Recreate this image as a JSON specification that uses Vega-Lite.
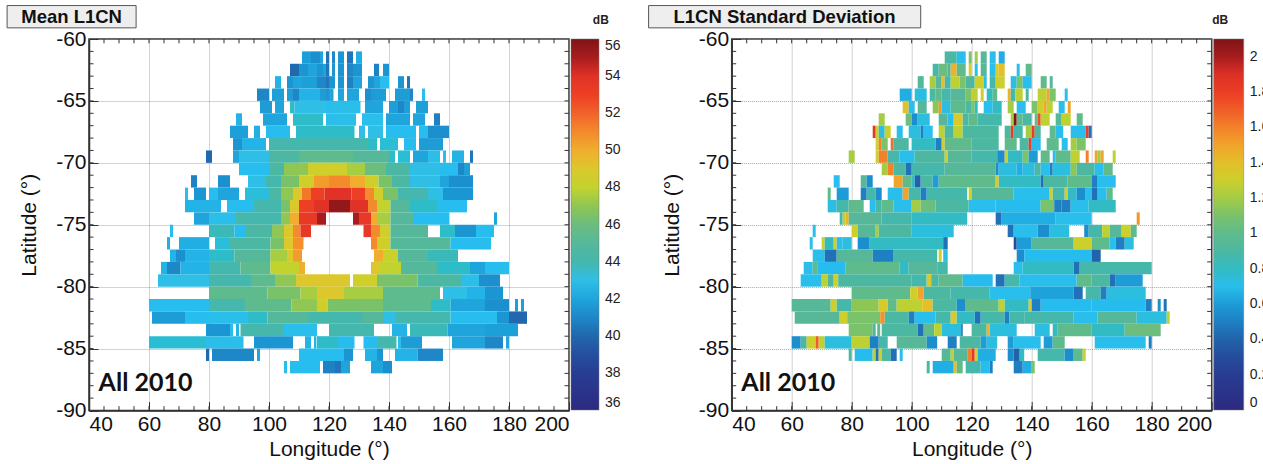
{"$schema":"https://vega.github.io/schema/vega-lite/v6.json","padding":{"left":5,"top":4,"right":0,"bottom":0},"spacing":162.7,"bounds":"flush","background":"white","config":{"font":"Liberation Sans","view":{"stroke":"#333","strokeWidth":1.5},"axis":{"labelFontSize":21,"titleFontSize":21,"titleFontWeight":"normal","labelColor":"#111","titleColor":"#111","domainColor":"#333","domainWidth":1.5,"tickColor":"#333","gridColor":"#888","gridDash":[1,1],"gridOpacity":0.75,"grid":true,"zindex":1,"tickSize":-9,"labelPadding":12}},"resolve":{"scale":{"color":"independent"}},
"datasets":{"xt":[{"t":45},{"t":50},{"t":55},{"t":60},{"t":65},{"t":70},{"t":75},{"t":80},{"t":85},{"t":90},{"t":95},{"t":100},{"t":105},{"t":110},{"t":115},{"t":120},{"t":125},{"t":130},{"t":135},{"t":140},{"t":145},{"t":150},{"t":155},{"t":160},{"t":165},{"t":170},{"t":175},{"t":180},{"t":185},{"t":190},{"t":195}],"yt":[{"t":-61},{"t":-62},{"t":-63},{"t":-64},{"t":-65},{"t":-66},{"t":-67},{"t":-68},{"t":-69},{"t":-70},{"t":-71},{"t":-72},{"t":-73},{"t":-74},{"t":-75},{"t":-76},{"t":-77},{"t":-78},{"t":-79},{"t":-80},{"t":-81},{"t":-82},{"t":-83},{"t":-84},{"t":-85},{"t":-86},{"t":-87},{"t":-88},{"t":-89}],
"mean":[
{"a":111,"b":114,"y":-61,"z":-62,"v":41.8},{"a":114,"b":117,"y":-61,"z":-62,"v":41.3},{"a":117,"b":118,"y":-61,"z":-62,"v":42},{"a":119,"b":120,"y":-61,"z":-62,"v":40.3},{"a":121,"b":122,"y":-61,"z":-62,"v":41},{"a":123,"b":125,"y":-61,"z":-62,"v":41.5},{"a":126,"b":128,"y":-61,"z":-62,"v":40.5},{"a":129,"b":131,"y":-61,"z":-62,"v":42.2},
{"a":107,"b":110,"y":-62,"z":-63,"v":40},{"a":110,"b":113,"y":-62,"z":-63,"v":41.5},{"a":113,"b":116,"y":-62,"z":-63,"v":42},{"a":116,"b":118,"y":-62,"z":-63,"v":41.5},{"a":118,"b":119,"y":-62,"z":-63,"v":42},{"a":119,"b":120,"y":-62,"z":-63,"v":40.5},{"a":121,"b":122,"y":-62,"z":-63,"v":41.5},{"a":123,"b":125,"y":-62,"z":-63,"v":41.5},{"a":126,"b":128,"y":-62,"z":-63,"v":41},{"a":128,"b":129,"y":-62,"z":-63,"v":41.5},{"a":129,"b":131,"y":-62,"z":-63,"v":41.5},{"a":135,"b":136.7,"y":-62,"z":-63,"v":40.8},{"a":138,"b":140,"y":-62,"z":-63,"v":41.5},
{"a":102,"b":104,"y":-63,"z":-64,"v":42.3},{"a":106,"b":108,"y":-63,"z":-64,"v":41.5},{"a":108,"b":111,"y":-63,"z":-64,"v":42},{"a":111,"b":116,"y":-63,"z":-64,"v":41.8},{"a":116,"b":119,"y":-63,"z":-64,"v":41},{"a":119,"b":120,"y":-63,"z":-64,"v":40.5},{"a":120,"b":122,"y":-63,"z":-64,"v":41.5},{"a":123,"b":125,"y":-63,"z":-64,"v":41.5},{"a":126,"b":128,"y":-63,"z":-64,"v":40.8},{"a":128,"b":131,"y":-63,"z":-64,"v":42},{"a":133,"b":135,"y":-63,"z":-64,"v":41.5},{"a":135,"b":137,"y":-63,"z":-64,"v":42},{"a":137,"b":140,"y":-63,"z":-64,"v":42.5},{"a":143,"b":145,"y":-63,"z":-64,"v":41.5},{"a":146,"b":147,"y":-63,"z":-64,"v":40.5},
{"a":96,"b":100,"y":-64,"z":-65,"v":41},{"a":101,"b":105,"y":-64,"z":-65,"v":41.8},{"a":106,"b":108,"y":-64,"z":-65,"v":41.7},{"a":108,"b":110,"y":-64,"z":-65,"v":41},{"a":110,"b":117,"y":-64,"z":-65,"v":42.3},{"a":117,"b":119,"y":-64,"z":-65,"v":41.7},{"a":119,"b":120,"y":-64,"z":-65,"v":41.5},{"a":120,"b":121.5,"y":-64,"z":-65,"v":42},{"a":123,"b":125,"y":-64,"z":-65,"v":42},{"a":126,"b":128,"y":-64,"z":-65,"v":42},{"a":128,"b":130,"y":-64,"z":-65,"v":42},{"a":132,"b":134,"y":-64,"z":-65,"v":41.3},{"a":134,"b":139,"y":-64,"z":-65,"v":41.7},{"a":142,"b":147,"y":-64,"z":-65,"v":41.7},{"a":147,"b":148,"y":-64,"z":-65,"v":41},{"a":151,"b":152,"y":-64,"z":-65,"v":42.5},
{"a":97,"b":101,"y":-65,"z":-66,"v":41.7},{"a":102,"b":105,"y":-65,"z":-66,"v":42},{"a":107,"b":108.5,"y":-65,"z":-66,"v":43.5},{"a":108.5,"b":119,"y":-65,"z":-66,"v":43},{"a":119,"b":121,"y":-65,"z":-66,"v":42.5},{"a":121,"b":130.5,"y":-65,"z":-66,"v":42.8},{"a":132,"b":138,"y":-65,"z":-66,"v":42},{"a":140,"b":143,"y":-65,"z":-66,"v":41.8},{"a":143,"b":145,"y":-65,"z":-66,"v":41},{"a":145,"b":147,"y":-65,"z":-66,"v":41.8},{"a":149,"b":153,"y":-65,"z":-66,"v":41.8},
{"a":89,"b":91,"y":-66,"z":-67,"v":42.3},{"a":98,"b":106,"y":-66,"z":-67,"v":42},{"a":108,"b":118,"y":-66,"z":-67,"v":43.5},{"a":119,"b":129,"y":-66,"z":-67,"v":42.8},{"a":131,"b":138,"y":-66,"z":-67,"v":42.7},{"a":139,"b":147,"y":-66,"z":-67,"v":42},{"a":148,"b":152,"y":-66,"z":-67,"v":42},{"a":155,"b":157,"y":-66,"z":-67,"v":40.8},
{"a":87,"b":93,"y":-67,"z":-68,"v":41.8},{"a":95,"b":97,"y":-67,"z":-68,"v":42.2},{"a":99,"b":107,"y":-67,"z":-68,"v":42.5},{"a":109,"b":128.5,"y":-67,"z":-68,"v":43.5},{"a":130,"b":132,"y":-67,"z":-68,"v":43},{"a":133,"b":138,"y":-67,"z":-68,"v":43},{"a":139,"b":149,"y":-67,"z":-68,"v":42.5},{"a":150,"b":153,"y":-67,"z":-68,"v":42.5},{"a":153,"b":160,"y":-67,"z":-68,"v":41.3},
{"a":88,"b":91,"y":-68,"z":-69,"v":41.5},{"a":91,"b":94,"y":-68,"z":-69,"v":42.3},{"a":94,"b":99,"y":-68,"z":-69,"v":42.3},{"a":100,"b":130,"y":-68,"z":-69,"v":44},{"a":130,"b":133,"y":-68,"z":-69,"v":44},{"a":133,"b":136,"y":-68,"z":-69,"v":43.5},{"a":137,"b":143,"y":-68,"z":-69,"v":43.3},{"a":145,"b":149,"y":-68,"z":-69,"v":42.5},{"a":150,"b":158,"y":-68,"z":-69,"v":41.7},
{"a":79,"b":81,"y":-69,"z":-70,"v":40},{"a":88,"b":90,"y":-69,"z":-70,"v":42},{"a":90,"b":100,"y":-69,"z":-70,"v":43},{"a":100,"b":110,"y":-69,"z":-70,"v":44.5},{"a":110,"b":128,"y":-69,"z":-70,"v":45.5},{"a":128,"b":140,"y":-69,"z":-70,"v":45},{"a":140,"b":142,"y":-69,"z":-70,"v":43.5},{"a":143,"b":147,"y":-69,"z":-70,"v":43.3},{"a":148,"b":153,"y":-69,"z":-70,"v":42},{"a":153,"b":157,"y":-69,"z":-70,"v":42.8},{"a":158,"b":159,"y":-69,"z":-70,"v":42.5},{"a":161,"b":165,"y":-69,"z":-70,"v":42.3},{"a":167,"b":168,"y":-69,"z":-70,"v":40.5},
{"a":90,"b":100,"y":-70,"z":-71,"v":42.5},{"a":100,"b":105,"y":-70,"z":-71,"v":44.5},{"a":105,"b":113,"y":-70,"z":-71,"v":47},{"a":113,"b":126,"y":-70,"z":-71,"v":48.5},{"a":126,"b":132,"y":-70,"z":-71,"v":47.5},{"a":132,"b":139,"y":-70,"z":-71,"v":46},{"a":139,"b":147,"y":-70,"z":-71,"v":44.5},{"a":147,"b":157,"y":-70,"z":-71,"v":43},{"a":157,"b":163,"y":-70,"z":-71,"v":42.5},{"a":163,"b":165,"y":-70,"z":-71,"v":41},{"a":165,"b":167,"y":-70,"z":-71,"v":41.8},
{"a":74,"b":76,"y":-71,"z":-72,"v":40.8},{"a":83,"b":87,"y":-71,"z":-72,"v":41.3},{"a":93,"b":99,"y":-71,"z":-72,"v":43},{"a":99,"b":104,"y":-71,"z":-72,"v":44},{"a":104,"b":110,"y":-71,"z":-72,"v":46.5},{"a":110,"b":115,"y":-71,"z":-72,"v":48.5},{"a":115,"b":120,"y":-71,"z":-72,"v":50.5},{"a":120,"b":127,"y":-71,"z":-72,"v":51},{"a":127,"b":132,"y":-71,"z":-72,"v":50},{"a":132,"b":136.5,"y":-71,"z":-72,"v":48.5},{"a":136.5,"b":141,"y":-71,"z":-72,"v":46.5},{"a":141,"b":147,"y":-71,"z":-72,"v":44.5},{"a":147,"b":157,"y":-71,"z":-72,"v":43},{"a":157,"b":160,"y":-71,"z":-72,"v":42},{"a":160,"b":168,"y":-71,"z":-72,"v":41.3},
{"a":72,"b":73,"y":-72,"z":-73,"v":42.5},{"a":75,"b":79,"y":-72,"z":-73,"v":41.5},{"a":80,"b":83,"y":-72,"z":-73,"v":42.5},{"a":83,"b":90,"y":-72,"z":-73,"v":42},{"a":92,"b":100,"y":-72,"z":-73,"v":43.2},{"a":100,"b":104,"y":-72,"z":-73,"v":44.5},{"a":104,"b":108,"y":-72,"z":-73,"v":47},{"a":108,"b":111,"y":-72,"z":-73,"v":49},{"a":111,"b":114,"y":-72,"z":-73,"v":51.5},{"a":114,"b":118.5,"y":-72,"z":-73,"v":53},{"a":118.5,"b":127.5,"y":-72,"z":-73,"v":54},{"a":127.5,"b":132,"y":-72,"z":-73,"v":53},{"a":132,"b":135,"y":-72,"z":-73,"v":51},{"a":135,"b":138,"y":-72,"z":-73,"v":48.5},{"a":138,"b":143,"y":-72,"z":-73,"v":46.5},{"a":143,"b":153,"y":-72,"z":-73,"v":44},{"a":153,"b":158,"y":-72,"z":-73,"v":43},{"a":158,"b":168,"y":-72,"z":-73,"v":41.5},
{"a":72,"b":84,"y":-73,"z":-74,"v":42.3},{"a":86,"b":95,"y":-73,"z":-74,"v":42.5},{"a":95,"b":104,"y":-73,"z":-74,"v":44},{"a":104,"b":107,"y":-73,"z":-74,"v":46.5},{"a":107,"b":110,"y":-73,"z":-74,"v":49},{"a":110,"b":115,"y":-73,"z":-74,"v":53},{"a":115,"b":120,"y":-73,"z":-74,"v":54},{"a":120,"b":127,"y":-73,"z":-74,"v":55.5},{"a":127,"b":133,"y":-73,"z":-74,"v":54},{"a":133,"b":136,"y":-73,"z":-74,"v":51},{"a":136,"b":140.5,"y":-73,"z":-74,"v":48},{"a":140.5,"b":147,"y":-73,"z":-74,"v":45},{"a":147,"b":156,"y":-73,"z":-74,"v":43.5},{"a":156,"b":166,"y":-73,"z":-74,"v":42.5},
{"a":75,"b":80,"y":-74,"z":-75,"v":42},{"a":80,"b":89,"y":-74,"z":-75,"v":42.8},{"a":89,"b":104,"y":-74,"z":-75,"v":44},{"a":104,"b":107,"y":-74,"z":-75,"v":47},{"a":107,"b":110,"y":-74,"z":-75,"v":50},{"a":110,"b":116,"y":-74,"z":-75,"v":53.5},{"a":116,"b":119,"y":-74,"z":-75,"v":55},{"a":128,"b":130,"y":-74,"z":-75,"v":55},{"a":130,"b":134,"y":-74,"z":-75,"v":53.5},{"a":134,"b":136,"y":-74,"z":-75,"v":50},{"a":136,"b":140.5,"y":-74,"z":-75,"v":47.5},{"a":140.5,"b":148,"y":-74,"z":-75,"v":45},{"a":148,"b":160,"y":-74,"z":-75,"v":42.5},{"a":175,"b":176,"y":-74,"z":-75,"v":42},
{"a":67,"b":68,"y":-75,"z":-76,"v":42.5},{"a":80,"b":88.5,"y":-75,"z":-76,"v":43.8},{"a":88.5,"b":92,"y":-75,"z":-76,"v":42.5},{"a":92,"b":101,"y":-75,"z":-76,"v":44.5},{"a":101,"b":105,"y":-75,"z":-76,"v":47},{"a":105,"b":108,"y":-75,"z":-76,"v":49},{"a":108,"b":110.5,"y":-75,"z":-76,"v":51},{"a":110.5,"b":114,"y":-75,"z":-76,"v":53.5},{"a":131.5,"b":134,"y":-75,"z":-76,"v":53.5},{"a":134,"b":137,"y":-75,"z":-76,"v":51},{"a":137,"b":140.5,"y":-75,"z":-76,"v":48.5},{"a":140.5,"b":153,"y":-75,"z":-76,"v":45},{"a":157,"b":162,"y":-75,"z":-76,"v":43.5},{"a":162,"b":169,"y":-75,"z":-76,"v":41.5},{"a":169,"b":175,"y":-75,"z":-76,"v":42.5},
{"a":66,"b":67,"y":-76,"z":-77,"v":42.2},{"a":70,"b":80,"y":-76,"z":-77,"v":42.2},{"a":82,"b":87,"y":-76,"z":-77,"v":43.2},{"a":87,"b":100.5,"y":-76,"z":-77,"v":44.5},{"a":100.5,"b":105,"y":-76,"z":-77,"v":46.5},{"a":105,"b":108,"y":-76,"z":-77,"v":49},{"a":108,"b":111.5,"y":-76,"z":-77,"v":50.8},{"a":134,"b":136,"y":-76,"z":-77,"v":51},{"a":136,"b":140.5,"y":-76,"z":-77,"v":48.5},{"a":140.5,"b":160.5,"y":-76,"z":-77,"v":45},{"a":160.5,"b":174,"y":-76,"z":-77,"v":42.5},
{"a":67,"b":69,"y":-77,"z":-78,"v":42.3},{"a":69,"b":72,"y":-77,"z":-78,"v":41.3},{"a":72,"b":80,"y":-77,"z":-78,"v":42.3},{"a":80,"b":88.5,"y":-77,"z":-78,"v":43.5},{"a":88.5,"b":100.5,"y":-77,"z":-78,"v":45},{"a":100.5,"b":106,"y":-77,"z":-78,"v":47.5},{"a":106,"b":108,"y":-77,"z":-78,"v":49},{"a":108,"b":111,"y":-77,"z":-78,"v":50.5},{"a":135,"b":138,"y":-77,"z":-78,"v":50},{"a":138,"b":143,"y":-77,"z":-78,"v":48.3},{"a":143,"b":153,"y":-77,"z":-78,"v":45},{"a":153,"b":163,"y":-77,"z":-78,"v":43.8},
{"a":64,"b":66,"y":-78,"z":-79,"v":42.3},{"a":66,"b":70.5,"y":-78,"z":-79,"v":41},{"a":70.5,"b":80,"y":-78,"z":-79,"v":42.3},{"a":80,"b":90.5,"y":-78,"z":-79,"v":44},{"a":90.5,"b":100.5,"y":-78,"z":-79,"v":45.5},{"a":100.5,"b":110,"y":-78,"z":-79,"v":48},{"a":110,"b":112,"y":-78,"z":-79,"v":50},{"a":134,"b":137,"y":-78,"z":-79,"v":49},{"a":137,"b":144,"y":-78,"z":-79,"v":48},{"a":144,"b":156,"y":-78,"z":-79,"v":45},{"a":156,"b":167,"y":-78,"z":-79,"v":43.5},{"a":167,"b":172,"y":-78,"z":-79,"v":42},{"a":172,"b":180,"y":-78,"z":-79,"v":42.5},
{"a":63,"b":80,"y":-79,"z":-80,"v":43},{"a":80,"b":94,"y":-79,"z":-80,"v":44},{"a":94,"b":102,"y":-79,"z":-80,"v":45.5},{"a":102,"b":109,"y":-79,"z":-80,"v":47},{"a":109,"b":127,"y":-79,"z":-80,"v":49},{"a":128,"b":136,"y":-79,"z":-80,"v":48.5},{"a":136,"b":149.5,"y":-79,"z":-80,"v":46.5},{"a":149.5,"b":164,"y":-79,"z":-80,"v":44.5},{"a":164,"b":170,"y":-79,"z":-80,"v":42.8},{"a":170,"b":177,"y":-79,"z":-80,"v":41.3},
{"a":80,"b":99.5,"y":-80,"z":-81,"v":45.5},{"a":99.5,"b":110.5,"y":-80,"z":-81,"v":46.5},{"a":110.5,"b":116,"y":-80,"z":-81,"v":47.5},{"a":116,"b":125,"y":-80,"z":-81,"v":49},{"a":125,"b":138,"y":-80,"z":-81,"v":47.5},{"a":138,"b":157,"y":-80,"z":-81,"v":45.5},{"a":158,"b":166,"y":-80,"z":-81,"v":43},{"a":166,"b":172,"y":-80,"z":-81,"v":42.3},{"a":172,"b":178,"y":-80,"z":-81,"v":41.5},
{"a":60,"b":80,"y":-81,"z":-82,"v":42.5},{"a":80,"b":92,"y":-81,"z":-82,"v":44},{"a":92,"b":107.5,"y":-81,"z":-82,"v":45.5},{"a":107.5,"b":116,"y":-81,"z":-82,"v":47},{"a":116,"b":119.5,"y":-81,"z":-82,"v":48.5},{"a":119.5,"b":138,"y":-81,"z":-82,"v":46.5},{"a":138,"b":154,"y":-81,"z":-82,"v":45.5},{"a":154,"b":160.5,"y":-81,"z":-82,"v":43.5},{"a":160.5,"b":172,"y":-81,"z":-82,"v":42},{"a":172,"b":180,"y":-81,"z":-82,"v":41.3},{"a":182,"b":183,"y":-81,"z":-82,"v":41.8},{"a":184,"b":185,"y":-81,"z":-82,"v":41.8},
{"a":61,"b":72,"y":-82,"z":-83,"v":41.7},{"a":72,"b":80,"y":-82,"z":-83,"v":42.5},{"a":80,"b":93,"y":-82,"z":-83,"v":42.7},{"a":93,"b":99.5,"y":-82,"z":-83,"v":43.5},{"a":99.5,"b":113,"y":-82,"z":-83,"v":45},{"a":113,"b":131,"y":-82,"z":-83,"v":44},{"a":131,"b":138,"y":-82,"z":-83,"v":45},{"a":138,"b":142,"y":-82,"z":-83,"v":43},{"a":142,"b":160.5,"y":-82,"z":-83,"v":44},{"a":160.5,"b":176,"y":-82,"z":-83,"v":42.5},{"a":176,"b":180,"y":-82,"z":-83,"v":41.5},{"a":180,"b":186,"y":-82,"z":-83,"v":40},
{"a":79,"b":87,"y":-83,"z":-84,"v":41.5},{"a":87,"b":88,"y":-83,"z":-84,"v":42.5},{"a":89,"b":90,"y":-83,"z":-84,"v":42.3},{"a":90.5,"b":105,"y":-83,"z":-84,"v":44},{"a":105,"b":116,"y":-83,"z":-84,"v":42.7},{"a":120,"b":135,"y":-83,"z":-84,"v":44},{"a":141,"b":146,"y":-83,"z":-84,"v":42.3},{"a":147,"b":159.5,"y":-83,"z":-84,"v":43.8},{"a":159.5,"b":172,"y":-83,"z":-84,"v":42},{"a":172,"b":183,"y":-83,"z":-84,"v":41.8},
{"a":60,"b":79,"y":-84,"z":-85,"v":43.3},{"a":79,"b":91.5,"y":-84,"z":-85,"v":42.7},{"a":95,"b":108,"y":-84,"z":-85,"v":41.5},{"a":112,"b":114,"y":-84,"z":-85,"v":42.3},{"a":115,"b":115.8,"y":-84,"z":-85,"v":42.3},{"a":116,"b":123,"y":-84,"z":-85,"v":43.5},{"a":123,"b":128.5,"y":-84,"z":-85,"v":42.5},{"a":131.5,"b":136,"y":-84,"z":-85,"v":42.5},{"a":136,"b":142.5,"y":-84,"z":-85,"v":44},{"a":143,"b":144,"y":-84,"z":-85,"v":42.5},{"a":144,"b":151,"y":-84,"z":-85,"v":41.7},{"a":161,"b":172,"y":-84,"z":-85,"v":42},{"a":172,"b":178,"y":-84,"z":-85,"v":41},{"a":179,"b":180,"y":-84,"z":-85,"v":42},
{"a":79,"b":80,"y":-85,"z":-86,"v":40},{"a":81,"b":95,"y":-85,"z":-86,"v":41},{"a":96,"b":97,"y":-85,"z":-86,"v":42},{"a":110,"b":125,"y":-85,"z":-86,"v":42.5},{"a":125,"b":128,"y":-85,"z":-86,"v":41.5},{"a":132,"b":136,"y":-85,"z":-86,"v":42.3},{"a":136,"b":138,"y":-85,"z":-86,"v":41.5},{"a":142,"b":149.5,"y":-85,"z":-86,"v":42.3},{"a":149.5,"b":158,"y":-85,"z":-86,"v":41},
{"a":105,"b":106,"y":-86,"z":-87,"v":42.5},{"a":107,"b":117,"y":-86,"z":-87,"v":42.5},{"a":118,"b":122,"y":-86,"z":-87,"v":40.8},{"a":122,"b":124,"y":-86,"z":-87,"v":40.5},{"a":124,"b":127,"y":-86,"z":-87,"v":42},{"a":134,"b":138,"y":-86,"z":-87,"v":42},{"a":138,"b":141,"y":-86,"z":-87,"v":41.3}
],
"std":[
{"a":111,"b":115,"y":-61,"z":-62,"v":0.9},{"a":115,"b":118,"y":-61,"z":-62,"v":0.7},{"a":119,"b":120,"y":-61,"z":-62,"v":1.1},{"a":121,"b":122,"y":-61,"z":-62,"v":1.2},{"a":123,"b":125,"y":-61,"z":-62,"v":0.95},{"a":126,"b":128,"y":-61,"z":-62,"v":0.72},{"a":129,"b":131,"y":-61,"z":-62,"v":0.65},
{"a":107,"b":109,"y":-62,"z":-63,"v":0.85},{"a":109,"b":112,"y":-62,"z":-63,"v":1.05},{"a":112,"b":113,"y":-62,"z":-63,"v":0.9},{"a":113,"b":115,"y":-62,"z":-63,"v":1.45},{"a":115,"b":118,"y":-62,"z":-63,"v":1},{"a":119,"b":120,"y":-62,"z":-63,"v":1.3},{"a":121,"b":122,"y":-62,"z":-63,"v":0.7},{"a":123,"b":125,"y":-62,"z":-63,"v":0.95},{"a":126,"b":128,"y":-62,"z":-63,"v":0.7},{"a":128,"b":129,"y":-62,"z":-63,"v":1.35},{"a":129,"b":131,"y":-62,"z":-63,"v":1.4},{"a":135,"b":136,"y":-62,"z":-63,"v":0.7},{"a":138,"b":140,"y":-62,"z":-63,"v":1},
{"a":102,"b":104,"y":-63,"z":-64,"v":0.95},{"a":106,"b":108,"y":-63,"z":-64,"v":1.2},{"a":108,"b":110,"y":-63,"z":-64,"v":0.95},{"a":110,"b":111,"y":-63,"z":-64,"v":1.4},{"a":111,"b":113,"y":-63,"z":-64,"v":0.85},{"a":113,"b":116,"y":-63,"z":-64,"v":1.25},{"a":116,"b":118,"y":-63,"z":-64,"v":1.1},{"a":118,"b":121,"y":-63,"z":-64,"v":0.9},{"a":121,"b":124,"y":-63,"z":-64,"v":1.3},{"a":124,"b":125,"y":-63,"z":-64,"v":0.75},{"a":126,"b":128,"y":-63,"z":-64,"v":0.85},{"a":128,"b":131,"y":-63,"z":-64,"v":1.3},{"a":133,"b":135,"y":-63,"z":-64,"v":0.75},{"a":135,"b":137,"y":-63,"z":-64,"v":1.1},{"a":137,"b":140,"y":-63,"z":-64,"v":0.7},{"a":143,"b":145,"y":-63,"z":-64,"v":1},{"a":146,"b":147,"y":-63,"z":-64,"v":0.95},
{"a":96,"b":100,"y":-64,"z":-65,"v":0.65},{"a":101,"b":105,"y":-64,"z":-65,"v":0.75},{"a":106,"b":108,"y":-64,"z":-65,"v":0.9},{"a":108,"b":110,"y":-64,"z":-65,"v":1},{"a":110,"b":113,"y":-64,"z":-65,"v":0.85},{"a":113,"b":118,"y":-64,"z":-65,"v":0.95},{"a":118,"b":120,"y":-64,"z":-65,"v":1.1},{"a":120,"b":122,"y":-64,"z":-65,"v":1.25},{"a":123,"b":124,"y":-64,"z":-65,"v":1.3},{"a":125,"b":127,"y":-64,"z":-65,"v":0.8},{"a":127,"b":128.5,"y":-64,"z":-65,"v":1},{"a":132,"b":133,"y":-64,"z":-65,"v":1.45},{"a":133,"b":134.5,"y":-64,"z":-65,"v":0.85},{"a":134.5,"b":137,"y":-64,"z":-65,"v":1.25},{"a":138,"b":139,"y":-64,"z":-65,"v":0.9},{"a":142,"b":145,"y":-64,"z":-65,"v":1.25},{"a":145,"b":146,"y":-64,"z":-65,"v":1.5},{"a":146,"b":148,"y":-64,"z":-65,"v":1.1},{"a":151,"b":152,"y":-64,"z":-65,"v":0.7},
{"a":97,"b":99,"y":-65,"z":-66,"v":1.4},{"a":99,"b":101,"y":-65,"z":-66,"v":0.7},{"a":102,"b":105,"y":-65,"z":-66,"v":0.95},{"a":107,"b":109,"y":-65,"z":-66,"v":1.15},{"a":109,"b":110,"y":-65,"z":-66,"v":1.55},{"a":110,"b":113,"y":-65,"z":-66,"v":0.75},{"a":113,"b":118,"y":-65,"z":-66,"v":1},{"a":118,"b":120,"y":-65,"z":-66,"v":0.9},{"a":120,"b":121,"y":-65,"z":-66,"v":1.1},{"a":121,"b":122,"y":-65,"z":-66,"v":0.8},{"a":124,"b":127,"y":-65,"z":-66,"v":0.7},{"a":127,"b":130,"y":-65,"z":-66,"v":0.8},{"a":132,"b":134,"y":-65,"z":-66,"v":1.2},{"a":135,"b":138,"y":-65,"z":-66,"v":0.7},{"a":140,"b":142,"y":-65,"z":-66,"v":1.1},{"a":142,"b":144,"y":-65,"z":-66,"v":1.3},{"a":144,"b":145,"y":-65,"z":-66,"v":1.5},{"a":145,"b":147,"y":-65,"z":-66,"v":1.25},{"a":149,"b":151,"y":-65,"z":-66,"v":0.7},{"a":152,"b":153,"y":-65,"z":-66,"v":1.5},
{"a":89,"b":91,"y":-66,"z":-67,"v":1.2},{"a":98,"b":100,"y":-66,"z":-67,"v":1.05},{"a":100,"b":102,"y":-66,"z":-67,"v":0.55},{"a":102,"b":106,"y":-66,"z":-67,"v":0.75},{"a":109,"b":112,"y":-66,"z":-67,"v":0.95},{"a":112,"b":114,"y":-66,"z":-67,"v":0.7},{"a":114,"b":117,"y":-66,"z":-67,"v":1.35},{"a":117,"b":119,"y":-66,"z":-67,"v":0.9},{"a":119,"b":122,"y":-66,"z":-67,"v":1},{"a":122,"b":130,"y":-66,"z":-67,"v":0.85},{"a":133,"b":134,"y":-66,"z":-67,"v":1.2},{"a":134,"b":135,"y":-66,"z":-67,"v":2.1},{"a":135,"b":137,"y":-66,"z":-67,"v":1},{"a":137,"b":140,"y":-66,"z":-67,"v":0.9},{"a":141,"b":142,"y":-66,"z":-67,"v":1},{"a":142,"b":143,"y":-66,"z":-67,"v":1.75},{"a":143,"b":146,"y":-66,"z":-67,"v":1.25},{"a":148,"b":150,"y":-66,"z":-67,"v":0.95},{"a":150,"b":153,"y":-66,"z":-67,"v":1.25},{"a":155,"b":157,"y":-66,"z":-67,"v":1},
{"a":87,"b":88,"y":-67,"z":-68,"v":1.85},{"a":88,"b":89,"y":-67,"z":-68,"v":1.3},{"a":89,"b":91,"y":-67,"z":-68,"v":0.75},{"a":91,"b":93,"y":-67,"z":-68,"v":1.3},{"a":95,"b":97,"y":-67,"z":-68,"v":0.7},{"a":99,"b":103,"y":-67,"z":-68,"v":0.75},{"a":103,"b":104,"y":-67,"z":-68,"v":0.5},{"a":104,"b":107,"y":-67,"z":-68,"v":0.7},{"a":109,"b":111,"y":-67,"z":-68,"v":1.25},{"a":111,"b":114,"y":-67,"z":-68,"v":0.9},{"a":114,"b":117,"y":-67,"z":-68,"v":1.25},{"a":117,"b":129,"y":-67,"z":-68,"v":0.9},{"a":131,"b":133,"y":-67,"z":-68,"v":0.9},{"a":133,"b":134,"y":-67,"z":-68,"v":1.8},{"a":134,"b":137,"y":-67,"z":-68,"v":0.85},{"a":138,"b":140,"y":-67,"z":-68,"v":1.2},{"a":140,"b":141,"y":-67,"z":-68,"v":1.8},{"a":141,"b":143,"y":-67,"z":-68,"v":0.9},{"a":146,"b":148,"y":-67,"z":-68,"v":1},{"a":148,"b":150.5,"y":-67,"z":-68,"v":0.7},{"a":153,"b":158,"y":-67,"z":-68,"v":0.7},{"a":158,"b":159,"y":-67,"z":-68,"v":1.8},{"a":159,"b":160,"y":-67,"z":-68,"v":0.45},
{"a":88,"b":89,"y":-68,"z":-69,"v":1.3},{"a":89,"b":90,"y":-68,"z":-69,"v":1.6},{"a":90,"b":92,"y":-68,"z":-69,"v":1.1},{"a":93,"b":94,"y":-68,"z":-69,"v":1.65},{"a":94,"b":99,"y":-68,"z":-69,"v":0.9},{"a":100,"b":108,"y":-68,"z":-69,"v":0.8},{"a":108,"b":110,"y":-68,"z":-69,"v":0.5},{"a":110,"b":111,"y":-68,"z":-69,"v":1.3},{"a":111,"b":120,"y":-68,"z":-69,"v":1},{"a":120,"b":129,"y":-68,"z":-69,"v":0.9},{"a":131,"b":135,"y":-68,"z":-69,"v":1},{"a":136,"b":139,"y":-68,"z":-69,"v":0.9},{"a":139,"b":140,"y":-68,"z":-69,"v":1.8},{"a":140,"b":143,"y":-68,"z":-69,"v":0.7},{"a":145,"b":149,"y":-68,"z":-69,"v":1},{"a":150,"b":152,"y":-68,"z":-69,"v":0.7},{"a":153,"b":155,"y":-68,"z":-69,"v":1.2},{"a":155,"b":158,"y":-68,"z":-69,"v":1.1},
{"a":79,"b":81,"y":-69,"z":-70,"v":1.2},{"a":88,"b":89,"y":-69,"z":-70,"v":1.3},{"a":89,"b":92,"y":-69,"z":-70,"v":1.6},{"a":92,"b":96,"y":-69,"z":-70,"v":0.85},{"a":96,"b":101,"y":-69,"z":-70,"v":0.7},{"a":101,"b":111,"y":-69,"z":-70,"v":0.9},{"a":111,"b":112,"y":-69,"z":-70,"v":1.3},{"a":112,"b":120,"y":-69,"z":-70,"v":0.95},{"a":120,"b":128.5,"y":-69,"z":-70,"v":0.85},{"a":128.5,"b":131,"y":-69,"z":-70,"v":0.55},{"a":131,"b":132,"y":-69,"z":-70,"v":1.3},{"a":132,"b":137,"y":-69,"z":-70,"v":0.8},{"a":137,"b":139,"y":-69,"z":-70,"v":1.1},{"a":139,"b":142,"y":-69,"z":-70,"v":0.6},{"a":143,"b":146,"y":-69,"z":-70,"v":1},{"a":147,"b":148,"y":-69,"z":-70,"v":0.7},{"a":148,"b":153,"y":-69,"z":-70,"v":1},{"a":153,"b":156,"y":-69,"z":-70,"v":1.25},{"a":158,"b":159,"y":-69,"z":-70,"v":1.6},{"a":161,"b":162,"y":-69,"z":-70,"v":1.5},{"a":162,"b":163,"y":-69,"z":-70,"v":1.2},{"a":163,"b":164,"y":-69,"z":-70,"v":1.5},{"a":167,"b":168,"y":-69,"z":-70,"v":1.25},
{"a":90,"b":92,"y":-70,"z":-71,"v":1.2},{"a":92,"b":94,"y":-70,"z":-71,"v":1.6},{"a":94,"b":98,"y":-70,"z":-71,"v":0.9},{"a":98,"b":100,"y":-70,"z":-71,"v":0.45},{"a":100,"b":111,"y":-70,"z":-71,"v":0.85},{"a":111,"b":128,"y":-70,"z":-71,"v":0.95},{"a":128,"b":129,"y":-70,"z":-71,"v":0.55},{"a":129,"b":135,"y":-70,"z":-71,"v":0.75},{"a":135,"b":137,"y":-70,"z":-71,"v":0.65},{"a":137,"b":141,"y":-70,"z":-71,"v":0.75},{"a":141,"b":143,"y":-70,"z":-71,"v":0.9},{"a":143,"b":146,"y":-70,"z":-71,"v":0.7},{"a":146,"b":147,"y":-70,"z":-71,"v":0.5},{"a":147,"b":153,"y":-70,"z":-71,"v":0.75},{"a":153,"b":155,"y":-70,"z":-71,"v":1.15},{"a":155,"b":161,"y":-70,"z":-71,"v":0.9},{"a":161,"b":164,"y":-70,"z":-71,"v":0.7},{"a":164,"b":167,"y":-70,"z":-71,"v":1},
{"a":74,"b":76,"y":-71,"z":-72,"v":0.7},{"a":83,"b":85,"y":-71,"z":-72,"v":0.95},{"a":85,"b":87,"y":-71,"z":-72,"v":0.55},{"a":94,"b":97,"y":-71,"z":-72,"v":1.5},{"a":97,"b":100,"y":-71,"z":-72,"v":1},{"a":100,"b":101,"y":-71,"z":-72,"v":0.8},{"a":101,"b":103,"y":-71,"z":-72,"v":0.4},{"a":103,"b":107,"y":-71,"z":-72,"v":0.9},{"a":107,"b":109,"y":-71,"z":-72,"v":0.6},{"a":109,"b":128,"y":-71,"z":-72,"v":1},{"a":128,"b":129,"y":-71,"z":-72,"v":1.35},{"a":129,"b":143,"y":-71,"z":-72,"v":0.8},{"a":143,"b":144,"y":-71,"z":-72,"v":0.45},{"a":144,"b":152,"y":-71,"z":-72,"v":0.9},{"a":152,"b":160,"y":-71,"z":-72,"v":1},{"a":160,"b":162,"y":-71,"z":-72,"v":0.5},{"a":162,"b":168,"y":-71,"z":-72,"v":0.7},
{"a":72,"b":73,"y":-72,"z":-73,"v":1},{"a":75,"b":79,"y":-72,"z":-73,"v":0.6},{"a":83,"b":85,"y":-72,"z":-73,"v":0.5},{"a":85,"b":88,"y":-72,"z":-73,"v":0.85},{"a":88,"b":90,"y":-72,"z":-73,"v":0.55},{"a":92,"b":97,"y":-72,"z":-73,"v":0.7},{"a":97,"b":99,"y":-72,"z":-73,"v":1.5},{"a":99,"b":103,"y":-72,"z":-73,"v":0.85},{"a":103,"b":105,"y":-72,"z":-73,"v":0.5},{"a":105,"b":118.5,"y":-72,"z":-73,"v":0.85},{"a":119,"b":120,"y":-72,"z":-73,"v":1.3},{"a":120,"b":134,"y":-72,"z":-73,"v":0.95},{"a":134,"b":146,"y":-72,"z":-73,"v":0.7},{"a":146,"b":147,"y":-72,"z":-73,"v":1.3},{"a":147,"b":151,"y":-72,"z":-73,"v":0.85},{"a":151,"b":152,"y":-72,"z":-73,"v":1.35},{"a":152,"b":155,"y":-72,"z":-73,"v":0.8},{"a":155,"b":158,"y":-72,"z":-73,"v":0.55},{"a":158,"b":160,"y":-72,"z":-73,"v":0.7},{"a":160,"b":162,"y":-72,"z":-73,"v":0.45},{"a":162,"b":165,"y":-72,"z":-73,"v":0.7},{"a":165,"b":167,"y":-72,"z":-73,"v":1},
{"a":72,"b":75,"y":-73,"z":-74,"v":0.75},{"a":75,"b":79,"y":-73,"z":-74,"v":0.85},{"a":79,"b":84,"y":-73,"z":-74,"v":1},{"a":86,"b":88,"y":-73,"z":-74,"v":0.7},{"a":88,"b":90,"y":-73,"z":-74,"v":0.85},{"a":90,"b":94,"y":-73,"z":-74,"v":1},{"a":94,"b":100,"y":-73,"z":-74,"v":0.7},{"a":100,"b":103,"y":-73,"z":-74,"v":1.2},{"a":103,"b":108,"y":-73,"z":-74,"v":1.05},{"a":108,"b":119,"y":-73,"z":-74,"v":0.9},{"a":119,"b":128,"y":-73,"z":-74,"v":0.7},{"a":128,"b":143,"y":-73,"z":-74,"v":0.68},{"a":143,"b":147.5,"y":-73,"z":-74,"v":1.1},{"a":147.5,"b":150,"y":-73,"z":-74,"v":0.5},{"a":150,"b":153,"y":-73,"z":-74,"v":0.5},{"a":153,"b":159,"y":-73,"z":-74,"v":0.7},{"a":159,"b":168,"y":-73,"z":-74,"v":0.8},
{"a":76,"b":77,"y":-74,"z":-75,"v":0.85},{"a":77,"b":78,"y":-74,"z":-75,"v":1.25},{"a":78,"b":79,"y":-74,"z":-75,"v":1.45},{"a":79,"b":90,"y":-74,"z":-75,"v":0.95},{"a":90,"b":100,"y":-74,"z":-75,"v":0.85},{"a":100,"b":118.5,"y":-74,"z":-75,"v":0.8},{"a":128,"b":130,"y":-74,"z":-75,"v":0.45},{"a":130,"b":148,"y":-74,"z":-75,"v":0.65},{"a":148,"b":160,"y":-74,"z":-75,"v":0.7},{"a":175,"b":176,"y":-74,"z":-75,"v":1.55},
{"a":67,"b":68,"y":-75,"z":-76,"v":0.7},{"a":80,"b":82,"y":-75,"z":-76,"v":1.3},{"a":82,"b":88,"y":-75,"z":-76,"v":0.95},{"a":88,"b":89,"y":-75,"z":-76,"v":1.2},{"a":89,"b":100,"y":-75,"z":-76,"v":0.9},{"a":100,"b":114,"y":-75,"z":-76,"v":0.75},{"a":132,"b":134,"y":-75,"z":-76,"v":0.45},{"a":134,"b":142,"y":-75,"z":-76,"v":0.7},{"a":142,"b":146,"y":-75,"z":-76,"v":0.55},{"a":146,"b":152.5,"y":-75,"z":-76,"v":0.75},{"a":157.5,"b":159,"y":-75,"z":-76,"v":0.55},{"a":159,"b":163.5,"y":-75,"z":-76,"v":0.85},{"a":163.5,"b":166,"y":-75,"z":-76,"v":1.25},{"a":166,"b":170,"y":-75,"z":-76,"v":0.95},{"a":170,"b":173,"y":-75,"z":-76,"v":1.3},{"a":173,"b":175,"y":-75,"z":-76,"v":1},
{"a":66,"b":67,"y":-76,"z":-77,"v":0.7},{"a":70,"b":71,"y":-76,"z":-77,"v":1.3},{"a":71,"b":74,"y":-76,"z":-77,"v":0.8},{"a":74,"b":75,"y":-76,"z":-77,"v":1.35},{"a":75,"b":77,"y":-76,"z":-77,"v":0.7},{"a":77,"b":80,"y":-76,"z":-77,"v":0.75},{"a":82,"b":86,"y":-76,"z":-77,"v":0.55},{"a":86,"b":110.5,"y":-76,"z":-77,"v":0.8},{"a":110.5,"b":112,"y":-76,"z":-77,"v":0.45},{"a":134,"b":135,"y":-76,"z":-77,"v":0.3},{"a":135,"b":140,"y":-76,"z":-77,"v":0.6},{"a":140,"b":154,"y":-76,"z":-77,"v":0.95},{"a":154,"b":160,"y":-76,"z":-77,"v":1.3},{"a":160,"b":166,"y":-76,"z":-77,"v":1},{"a":166,"b":168,"y":-76,"z":-77,"v":0.7},{"a":168,"b":171,"y":-76,"z":-77,"v":0.5},{"a":171,"b":174,"y":-76,"z":-77,"v":0.75},
{"a":67,"b":71,"y":-77,"z":-78,"v":0.72},{"a":71,"b":75,"y":-77,"z":-78,"v":0.45},{"a":75,"b":87,"y":-77,"z":-78,"v":0.95},{"a":87,"b":94,"y":-77,"z":-78,"v":0.5},{"a":94,"b":108.5,"y":-77,"z":-78,"v":0.85},{"a":109,"b":110,"y":-77,"z":-78,"v":1.3},{"a":110.5,"b":112,"y":-77,"z":-78,"v":0.75},{"a":135,"b":137.5,"y":-77,"z":-78,"v":0.55},{"a":137.5,"b":160,"y":-77,"z":-78,"v":0.68},{"a":160,"b":163,"y":-77,"z":-78,"v":0.4},
{"a":64,"b":67,"y":-78,"z":-79,"v":0.7},{"a":67,"b":68.5,"y":-78,"z":-79,"v":1},{"a":68.5,"b":78,"y":-78,"z":-79,"v":0.68},{"a":78,"b":96,"y":-78,"z":-79,"v":1},{"a":96,"b":99,"y":-78,"z":-79,"v":0.8},{"a":99,"b":108.5,"y":-78,"z":-79,"v":0.95},{"a":108.5,"b":112,"y":-78,"z":-79,"v":0.85},{"a":134,"b":137,"y":-78,"z":-79,"v":0.7},{"a":137,"b":154,"y":-78,"z":-79,"v":0.8},{"a":154,"b":156,"y":-78,"z":-79,"v":0.45},{"a":156,"b":180,"y":-78,"z":-79,"v":0.85},
{"a":63,"b":70,"y":-79,"z":-80,"v":0.7},{"a":70,"b":72,"y":-79,"z":-80,"v":1.25},{"a":72,"b":74,"y":-79,"z":-80,"v":0.9},{"a":74,"b":75.5,"y":-79,"z":-80,"v":1.3},{"a":75.5,"b":100,"y":-79,"z":-80,"v":0.9},{"a":100,"b":105,"y":-79,"z":-80,"v":0.85},{"a":105,"b":106.5,"y":-79,"z":-80,"v":1.35},{"a":106.5,"b":109,"y":-79,"z":-80,"v":0.9},{"a":109,"b":117,"y":-79,"z":-80,"v":1},{"a":117,"b":127,"y":-79,"z":-80,"v":0.68},{"a":128,"b":131,"y":-79,"z":-80,"v":0.45},{"a":131,"b":136,"y":-79,"z":-80,"v":0.85},{"a":136,"b":155,"y":-79,"z":-80,"v":0.7},{"a":155,"b":160,"y":-79,"z":-80,"v":1},{"a":160,"b":166,"y":-79,"z":-80,"v":0.9},{"a":166,"b":168,"y":-79,"z":-80,"v":0.45},{"a":168,"b":177,"y":-79,"z":-80,"v":0.6},
{"a":80,"b":99.5,"y":-80,"z":-81,"v":1},{"a":99.5,"b":102,"y":-80,"z":-81,"v":1.3},{"a":102,"b":104,"y":-80,"z":-81,"v":1.5},{"a":104,"b":113,"y":-80,"z":-81,"v":0.9},{"a":113,"b":126,"y":-80,"z":-81,"v":0.85},{"a":126,"b":139.5,"y":-80,"z":-81,"v":0.7},{"a":139.5,"b":154,"y":-80,"z":-81,"v":0.62},{"a":154,"b":157,"y":-80,"z":-81,"v":0.45},{"a":158,"b":163,"y":-80,"z":-81,"v":0.85},{"a":163,"b":165,"y":-80,"z":-81,"v":0.5},{"a":165,"b":178,"y":-80,"z":-81,"v":0.75},
{"a":60,"b":73,"y":-81,"z":-82,"v":0.95},{"a":73,"b":75,"y":-81,"z":-82,"v":1.3},{"a":75,"b":80,"y":-81,"z":-82,"v":0.85},{"a":80,"b":89,"y":-81,"z":-82,"v":1.15},{"a":89,"b":92,"y":-81,"z":-82,"v":1.35},{"a":92,"b":95,"y":-81,"z":-82,"v":1},{"a":95,"b":103.5,"y":-81,"z":-82,"v":1.25},{"a":103.5,"b":107,"y":-81,"z":-82,"v":1.4},{"a":107,"b":115,"y":-81,"z":-82,"v":0.9},{"a":115,"b":118,"y":-81,"z":-82,"v":0.55},{"a":118,"b":129,"y":-81,"z":-82,"v":1},{"a":129,"b":131,"y":-81,"z":-82,"v":1.25},{"a":131,"b":139,"y":-81,"z":-82,"v":0.8},{"a":139,"b":140,"y":-81,"z":-82,"v":1.35},{"a":140,"b":143,"y":-81,"z":-82,"v":0.5},{"a":143,"b":160,"y":-81,"z":-82,"v":0.68},{"a":160,"b":178,"y":-81,"z":-82,"v":0.68},{"a":178,"b":180,"y":-81,"z":-82,"v":0.5},{"a":182,"b":183,"y":-81,"z":-82,"v":0.55},{"a":184,"b":185,"y":-81,"z":-82,"v":0.45},
{"a":61,"b":76,"y":-82,"z":-83,"v":0.95},{"a":76,"b":78.5,"y":-82,"z":-83,"v":1.3},{"a":78.5,"b":89.5,"y":-82,"z":-83,"v":1.1},{"a":89.5,"b":91,"y":-82,"z":-83,"v":1.55},{"a":91,"b":99,"y":-82,"z":-83,"v":0.9},{"a":99,"b":101,"y":-82,"z":-83,"v":0.5},{"a":101,"b":108,"y":-82,"z":-83,"v":0.7},{"a":108,"b":113,"y":-82,"z":-83,"v":0.85},{"a":113,"b":115,"y":-82,"z":-83,"v":1.35},{"a":115,"b":121,"y":-82,"z":-83,"v":0.8},{"a":121,"b":123,"y":-82,"z":-83,"v":0.45},{"a":123,"b":131,"y":-82,"z":-83,"v":0.85},{"a":131,"b":132.5,"y":-82,"z":-83,"v":0.5},{"a":132.5,"b":137.5,"y":-82,"z":-83,"v":0.85},{"a":137.5,"b":154,"y":-82,"z":-83,"v":0.85},{"a":154,"b":162,"y":-82,"z":-83,"v":0.7},{"a":162,"b":175,"y":-82,"z":-83,"v":0.95},{"a":175,"b":185,"y":-82,"z":-83,"v":0.75},{"a":185,"b":186,"y":-82,"z":-83,"v":1.25},
{"a":79,"b":87,"y":-83,"z":-84,"v":1.1},{"a":87,"b":88,"y":-83,"z":-84,"v":0.9},{"a":88.5,"b":89.5,"y":-83,"z":-84,"v":1},{"a":90,"b":102,"y":-83,"z":-84,"v":0.9},{"a":102,"b":104,"y":-83,"z":-84,"v":0.45},{"a":104,"b":107.5,"y":-83,"z":-84,"v":1},{"a":107.5,"b":110,"y":-83,"z":-84,"v":1.25},{"a":110,"b":116.5,"y":-83,"z":-84,"v":0.75},{"a":116.5,"b":117,"y":-83,"z":-84,"v":0.4},{"a":120,"b":125,"y":-83,"z":-84,"v":0.9},{"a":125,"b":126,"y":-83,"z":-84,"v":1.45},{"a":126,"b":135,"y":-83,"z":-84,"v":0.75},{"a":141,"b":146,"y":-83,"z":-84,"v":0.75},{"a":147,"b":148.5,"y":-83,"z":-84,"v":0.8},{"a":148.5,"b":160,"y":-83,"z":-84,"v":1},{"a":160,"b":171,"y":-83,"z":-84,"v":0.8},{"a":171,"b":183,"y":-83,"z":-84,"v":1.05},
{"a":60,"b":63,"y":-84,"z":-85,"v":0.55},{"a":63,"b":65,"y":-84,"z":-85,"v":0.9},{"a":65,"b":68,"y":-84,"z":-85,"v":1.3},{"a":68,"b":69,"y":-84,"z":-85,"v":1.7},{"a":69,"b":71,"y":-84,"z":-85,"v":1.25},{"a":71,"b":80,"y":-84,"z":-85,"v":0.75},{"a":80,"b":86,"y":-84,"z":-85,"v":1.25},{"a":86,"b":89,"y":-84,"z":-85,"v":0.5},{"a":89,"b":92,"y":-84,"z":-85,"v":0.85},{"a":95,"b":105,"y":-84,"z":-85,"v":0.95},{"a":105,"b":108.5,"y":-84,"z":-85,"v":0.55},{"a":112,"b":115,"y":-84,"z":-85,"v":0.5},{"a":116,"b":123,"y":-84,"z":-85,"v":0.9},{"a":123,"b":125,"y":-84,"z":-85,"v":0.6},{"a":125,"b":128.5,"y":-84,"z":-85,"v":0.75},{"a":132,"b":134,"y":-84,"z":-85,"v":0.6},{"a":134,"b":143,"y":-84,"z":-85,"v":0.7},{"a":144,"b":147,"y":-84,"z":-85,"v":0.6},{"a":147,"b":151,"y":-84,"z":-85,"v":1},{"a":161,"b":178,"y":-84,"z":-85,"v":0.7},{"a":179,"b":180,"y":-84,"z":-85,"v":0.5},
{"a":79,"b":80,"y":-85,"z":-86,"v":0.9},{"a":81,"b":87,"y":-85,"z":-86,"v":0.68},{"a":87,"b":88,"y":-85,"z":-86,"v":1.25},{"a":88,"b":89,"y":-85,"z":-86,"v":0.45},{"a":89,"b":90,"y":-85,"z":-86,"v":1.3},{"a":90,"b":93,"y":-85,"z":-86,"v":0.9},{"a":93,"b":95,"y":-85,"z":-86,"v":0.45},{"a":96,"b":97,"y":-85,"z":-86,"v":0.7},{"a":110,"b":113,"y":-85,"z":-86,"v":0.95},{"a":113,"b":114,"y":-85,"z":-86,"v":1.25},{"a":114,"b":118.5,"y":-85,"z":-86,"v":0.95},{"a":118.5,"b":120,"y":-85,"z":-86,"v":1.6},{"a":120,"b":121,"y":-85,"z":-86,"v":1.85},{"a":121,"b":122,"y":-85,"z":-86,"v":1.3},{"a":122,"b":128,"y":-85,"z":-86,"v":0.65},{"a":132,"b":134,"y":-85,"z":-86,"v":0.55},{"a":134,"b":136,"y":-85,"z":-86,"v":0.4},{"a":136,"b":137.5,"y":-85,"z":-86,"v":0.8},{"a":142,"b":151,"y":-85,"z":-86,"v":0.85},{"a":151,"b":154,"y":-85,"z":-86,"v":0.55},{"a":154,"b":157,"y":-85,"z":-86,"v":1},{"a":157,"b":158,"y":-85,"z":-86,"v":1.3},
{"a":105,"b":106,"y":-86,"z":-87,"v":0.9},{"a":107,"b":114,"y":-86,"z":-87,"v":0.65},{"a":114,"b":115,"y":-86,"z":-87,"v":1.4},{"a":115,"b":117,"y":-86,"z":-87,"v":1},{"a":118,"b":123,"y":-86,"z":-87,"v":0.85},{"a":123,"b":126,"y":-86,"z":-87,"v":0.68},{"a":126,"b":127,"y":-86,"z":-87,"v":0.5},{"a":134,"b":137,"y":-86,"z":-87,"v":0.5},{"a":137,"b":140,"y":-86,"z":-87,"v":0.65},{"a":140,"b":141,"y":-86,"z":-87,"v":1.1}
]},
"hconcat":[
{"width":480,"height":371.5,"layer":[
{"data":{"name":"mean"},"mark":{"type":"rect"},"encoding":{"x":{"field":"a","type":"quantitative","scale":{"domain":[40,200],"nice":false},"axis":{"title":"Longitude (°)","values":[40,60,80,100,120,140,160,180,200],"titlePadding":4}},"x2":{"field":"b"},"y":{"field":"y","type":"quantitative","scale":{"domain":[-90,-60],"nice":false},"axis":{"title":"Latitude (°)","values":[-90,-85,-80,-75,-70,-65,-60],"labelExpr":"''+datum.value","titlePadding":16}},"y2":{"field":"z"},
"color":{"field":"v","type":"quantitative","scale":{"domain":[36,38,39,40,41,42,42.5,43,44,45,46,47,48,49,50,51,52,53,54,55,56],"range":["#2c2a80","#283d93","#254f9f","#2168ae","#1e87c8","#1fa5dc","#27bdee","#2fbfe6","#45b7ad","#55b89a","#6cbd7e","#90c653","#c2d32e","#dcc82c","#f0ad2e","#f38a2c","#f1622a","#ee3f24","#e03226","#a81c1e","#7f1416"]},"legend":{"type":"gradient","orient":"none","legendX":482,"legendY":0,"title":null,"gradientLength":371,"gradientThickness":28,"gradientStrokeColor":"#777","gradientStrokeWidth":0.5,"values":[36,38,40,42,44,46,48,50,52,54,56],"labelFontSize":14,"labelColor":"#222","labelOffset":6,"direction":"vertical"}}}},
{"data":{"name":"xt"},"mark":{"type":"rule","color":"#333"},"encoding":{"x":{"field":"t","type":"quantitative"},"y":{"datum":-90,"type":"quantitative"},"y2":{"datum":-89.65}}},
{"data":{"name":"xt"},"mark":{"type":"rule","color":"#333"},"encoding":{"x":{"field":"t","type":"quantitative"},"y":{"datum":-60,"type":"quantitative"},"y2":{"datum":-60.35}}},
{"data":{"name":"yt"},"mark":{"type":"rule","color":"#333"},"encoding":{"y":{"field":"t","type":"quantitative"},"x":{"datum":40,"type":"quantitative"},"x2":{"datum":41.5}}},
{"data":{"name":"yt"},"mark":{"type":"rule","color":"#333"},"encoding":{"y":{"field":"t","type":"quantitative"},"x":{"datum":200,"type":"quantitative"},"x2":{"datum":198.5}}},
{"data":{"values":[{"a":12.7,"b":55.7,"y":-59.1,"z":-57.3}]},"mark":{"type":"rect","fill":"#eeeeee","stroke":"#555","strokeWidth":1},"encoding":{"x":{"field":"a","type":"quantitative"},"x2":{"field":"b"},"y":{"field":"y","type":"quantitative"},"y2":{"field":"z"}}},
{"data":{"values":[{"x":34.2,"y":-58.2,"s":"Mean L1CN"}]},"mark":{"type":"text","fontWeight":"bold","fontSize":18.5,"color":"#111"},"encoding":{"x":{"field":"x","type":"quantitative"},"y":{"field":"y","type":"quantitative"},"text":{"field":"s"}}},
{"data":{"values":[{"x":210.6,"y":-58.5,"s":"dB"}]},"mark":{"type":"text","fontWeight":"bold","fontSize":12,"color":"#222"},"encoding":{"x":{"field":"x","type":"quantitative"},"y":{"field":"y","type":"quantitative"},"text":{"field":"s"}}},
{"data":{"values":[{"x":43.2,"y":-87.75,"s":"All 2010"}]},"mark":{"type":"text","font":"Lato","fontWeight":"bold","fontSize":25,"align":"left","color":"#111"},"encoding":{"x":{"field":"x","type":"quantitative"},"y":{"field":"y","type":"quantitative"},"text":{"field":"s"}}}
]},
{"width":480,"height":371.5,"layer":[
{"data":{"name":"std"},"mark":{"type":"rect"},"encoding":{"x":{"field":"a","type":"quantitative","scale":{"domain":[40,200],"nice":false},"axis":{"title":"Longitude (°)","values":[40,60,80,100,120,140,160,180,200],"titlePadding":4}},"x2":{"field":"b"},"y":{"field":"y","type":"quantitative","scale":{"domain":[-90,-60],"nice":false},"axis":{"title":"Latitude (°)","values":[-90,-85,-80,-75,-70,-65,-60],"labelExpr":"''+datum.value","titlePadding":16}},"y2":{"field":"z"},
"color":{"field":"v","type":"quantitative","scale":{"domain":[0,0.21,0.315,0.42,0.525,0.63,0.683,0.735,0.84,0.945,1.05,1.155,1.26,1.365,1.47,1.575,1.68,1.785,1.89,1.995,2.1],"range":["#2c2a80","#283d93","#254f9f","#2168ae","#1e87c8","#1fa5dc","#27bdee","#2fbfe6","#45b7ad","#55b89a","#6cbd7e","#90c653","#c2d32e","#dcc82c","#f0ad2e","#f38a2c","#f1622a","#ee3f24","#e03226","#a81c1e","#7f1416"]},"legend":{"type":"gradient","orient":"none","legendX":482,"legendY":0,"title":null,"gradientLength":371,"gradientThickness":30,"gradientStrokeColor":"#777","gradientStrokeWidth":0.5,"values":[0,0.2,0.4,0.6,0.8,1,1.2,1.4,1.6,1.8,2],"format":"~g","labelFontSize":14,"labelColor":"#222","labelOffset":6,"direction":"vertical"}}}},
{"data":{"name":"xt"},"mark":{"type":"rule","color":"#333"},"encoding":{"x":{"field":"t","type":"quantitative"},"y":{"datum":-90,"type":"quantitative"},"y2":{"datum":-89.65}}},
{"data":{"name":"xt"},"mark":{"type":"rule","color":"#333"},"encoding":{"x":{"field":"t","type":"quantitative"},"y":{"datum":-60,"type":"quantitative"},"y2":{"datum":-60.35}}},
{"data":{"name":"yt"},"mark":{"type":"rule","color":"#333"},"encoding":{"y":{"field":"t","type":"quantitative"},"x":{"datum":40,"type":"quantitative"},"x2":{"datum":41.5}}},
{"data":{"name":"yt"},"mark":{"type":"rule","color":"#333"},"encoding":{"y":{"field":"t","type":"quantitative"},"x":{"datum":200,"type":"quantitative"},"x2":{"datum":198.5}}},
{"data":{"values":[{"a":12.3,"b":103,"y":-59.1,"z":-57.3}]},"mark":{"type":"rect","fill":"#eeeeee","stroke":"#555","strokeWidth":1},"encoding":{"x":{"field":"a","type":"quantitative"},"x2":{"field":"b"},"y":{"field":"y","type":"quantitative"},"y2":{"field":"z"}}},
{"data":{"values":[{"x":57.6,"y":-58.2,"s":"L1CN Standard Deviation"}]},"mark":{"type":"text","fontWeight":"bold","fontSize":18.5,"color":"#111"},"encoding":{"x":{"field":"x","type":"quantitative"},"y":{"field":"y","type":"quantitative"},"text":{"field":"s"}}},
{"data":{"values":[{"x":201.5,"y":-58.5,"s":"dB"}]},"mark":{"type":"text","fontWeight":"bold","fontSize":12,"dx":4,"color":"#222"},"encoding":{"x":{"field":"x","type":"quantitative"},"y":{"field":"y","type":"quantitative"},"text":{"field":"s"}}},
{"data":{"values":[{"x":43.2,"y":-87.75,"s":"All 2010"}]},"mark":{"type":"text","font":"Lato","fontWeight":"bold","fontSize":25,"align":"left","color":"#111"},"encoding":{"x":{"field":"x","type":"quantitative"},"y":{"field":"y","type":"quantitative"},"text":{"field":"s"}}}
]}
]}
